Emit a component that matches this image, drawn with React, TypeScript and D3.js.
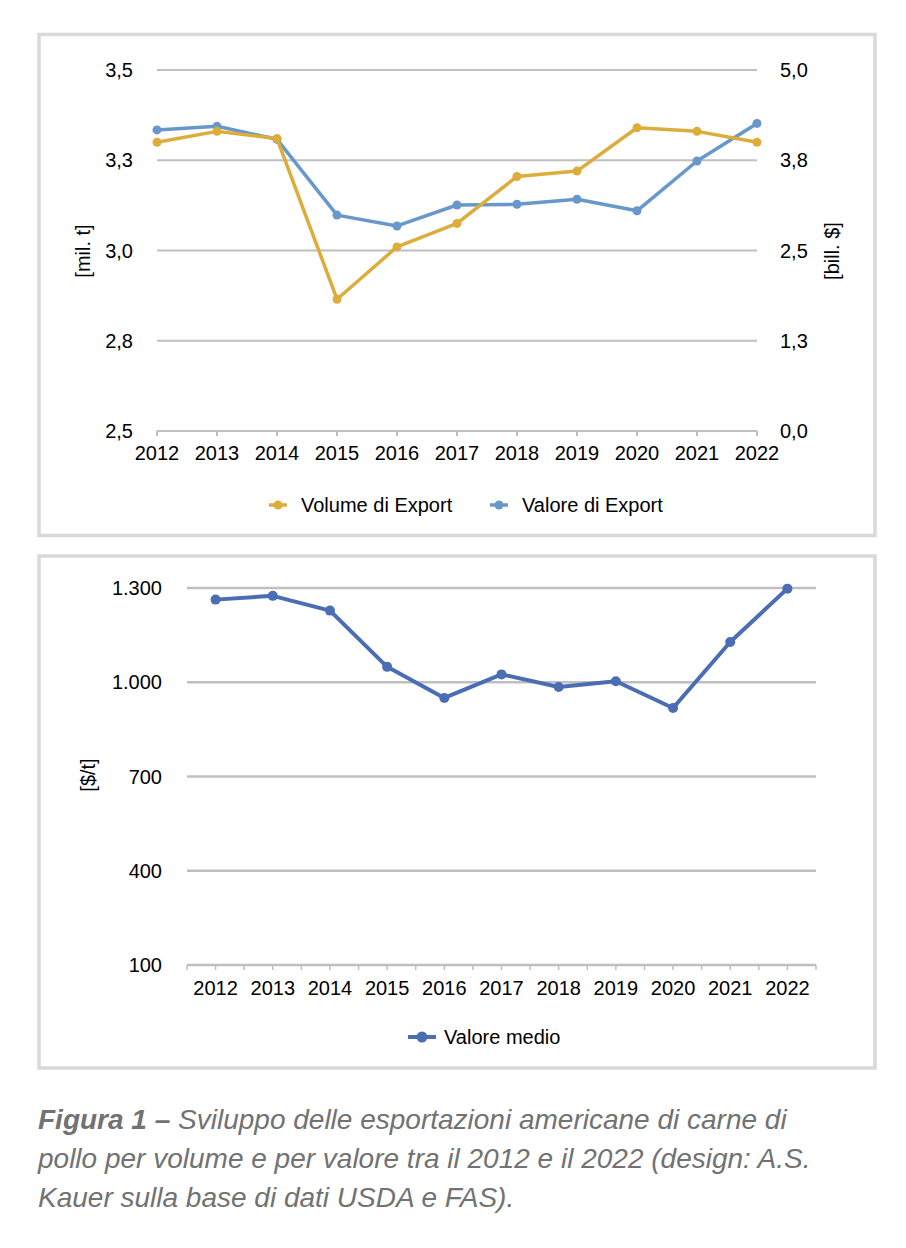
import * as d3 from "d3";

const years = ["2012", "2013", "2014", "2015", "2016", "2017", "2018", "2019", "2020", "2021", "2022"];
// volume di export [mil. t] (asse sinistro)
const volume = [3.30, 3.33, 3.31, 2.865, 3.01, 3.075, 3.205, 3.22, 3.34, 3.33, 3.30];
// valore di export [bill. $] (asse destro)
const valore = [4.17, 4.22, 4.04, 2.99, 2.84, 3.13, 3.14, 3.21, 3.05, 3.74, 4.26];
// valore medio [$/t]
const valoreMedio = [1263, 1275, 1228, 1049, 950, 1025, 985, 1003, 918, 1128, 1298];

const leftTicks = [2.5, 2.75, 3.0, 3.25, 3.5];
const rightTicks = [0, 1.25, 2.5, 3.75, 5.0];
const bottomTicks = [100, 400, 700, 1000, 1300];

const legendTop = ["Volume di Export", "Valore di Export"];
const legendBottom = ["Valore medio"];
const captionBold = "Figura 1 –";
const captionLines = [
  " Sviluppo delle esportazioni americane di carne di",
  "pollo per volume e per valore tra il 2012 e il 2022 (design: A.S.",
  "Kauer sulla base di dati USDA e FAS).",
];

const it = d3.formatLocale({ decimal: ",", thousands: ".", grouping: [3], currency: ["", "€"] });
const fmt1 = it.format(".1f");
const fmtInt = it.format(",d");

const FONT = "'Liberation Sans', Arial, sans-serif";
const GOLD = "#dcad3b";
const LIGHTBLUE = "#6797cb";
const DARKBLUE = "#4a6db4";
const GRID = "#bfbfbf";
const FRAME = "#d9d9d9";

export default function App() {
  // top chart scales
  const x1 = d3.scalePoint<string>().domain(years).range([157, 757]);
  const yL = d3.scaleLinear().domain([2.5, 3.5]).range([431, 70]);
  const yR = d3.scaleLinear().domain([0, 5]).range([431, 70]);

  const lineVol = d3.line<number>().x((_, i) => x1(years[i])!).y(d => yL(d));
  const lineVal = d3.line<number>().x((_, i) => x1(years[i])!).y(d => yR(d));

  // bottom chart scales
  const x2 = d3.scaleBand<string>().domain(years).range([187, 816]);
  const y2 = d3.scaleLinear().domain([100, 1300]).range([965, 588]);
  const lineMed = d3.line<number>().x((_, i) => x2(years[i])! + x2.bandwidth() / 2).y(d => y2(d));

  const halfTicks: number[] = [];
  years.forEach(y => {
    halfTicks.push(x2(y)!);
    halfTicks.push(x2(y)! + x2.bandwidth() / 2);
  });
  halfTicks.push(x2.range()[1]);

  return (
    <div style={{ position: "absolute", left: 0, top: 0 }}>
      <svg width={906} height={1248} style={{ display: "block", fontFamily: FONT }}>
        <rect x={0} y={0} width={906} height={1248} fill="#fff" />

        {/* pannello superiore */}
        <rect x={39} y={34.5} width={836} height={501} fill="#fff" stroke={FRAME} strokeWidth={3.5} />
        {leftTicks.slice(1).map(t => (
          <line key={t} x1={157} x2={757} y1={yL(t)} y2={yL(t)} stroke={GRID} strokeWidth={2} />
        ))}
        <line x1={157} x2={757} y1={431} y2={431} stroke={GRID} strokeWidth={2} />
        {years.map(y => (
          <line key={y} x1={x1(y)} x2={x1(y)} y1={431} y2={436} stroke={GRID} strokeWidth={2} />
        ))}
        {leftTicks.map(t => (
          <text key={t} x={133} y={yL(t)} dy="0.35em" textAnchor="end" fontSize={20} fill="#000">
            {fmt1(t)}
          </text>
        ))}
        {rightTicks.map(t => (
          <text key={t} x={780} y={yR(t)} dy="0.35em" textAnchor="start" fontSize={20} fill="#000">
            {fmt1(t)}
          </text>
        ))}
        {years.map(y => (
          <text key={y} x={x1(y)} y={460} textAnchor="middle" fontSize={20} fill="#000">{y}</text>
        ))}
        <text transform="translate(90,251) rotate(-90)" textAnchor="middle" fontSize={20} fill="#000">[mil. t]</text>
        <text transform="translate(839,251) rotate(-90)" textAnchor="middle" fontSize={20} fill="#000">[bill. $]</text>

        <path d={lineVal(valore)!} fill="none" stroke={LIGHTBLUE} strokeWidth={3.5} strokeLinejoin="round" />
        {valore.map((v, i) => (
          <circle key={i} cx={x1(years[i])} cy={yR(v)} r={4.5} fill={LIGHTBLUE} />
        ))}
        <path d={lineVol(volume)!} fill="none" stroke={GOLD} strokeWidth={3.5} strokeLinejoin="round" />
        {volume.map((v, i) => (
          <circle key={i} cx={x1(years[i])} cy={yL(v)} r={4.5} fill={GOLD} />
        ))}

        {/* legenda superiore */}
        {[GOLD, LIGHTBLUE].map((c, i) => {
          const cx = i === 0 ? 278 : 499;
          return (
            <g key={i}>
              <line x1={cx - 9} x2={cx + 9} y1={505} y2={505} stroke={c} strokeWidth={3.5} />
              <circle cx={cx} cy={505} r={4.5} fill={c} />
              <text x={cx + 23} y={512} fontSize={20} fill="#000">{legendTop[i]}</text>
            </g>
          );
        })}

        {/* pannello inferiore */}
        <rect x={39} y={556} width={836} height={512} fill="#fff" stroke={FRAME} strokeWidth={3.5} />
        {bottomTicks.slice(1).map(t => (
          <line key={t} x1={187} x2={816} y1={y2(t)} y2={y2(t)} stroke={GRID} strokeWidth={2.5} />
        ))}
        <line x1={187} x2={816} y1={965} y2={965} stroke={GRID} strokeWidth={2.5} />
        {halfTicks.map((t, i) => (
          <line key={i} x1={t} x2={t} y1={965} y2={970} stroke={GRID} strokeWidth={1.5} />
        ))}
        {bottomTicks.map(t => (
          <text key={t} x={162} y={y2(t)} dy="0.35em" textAnchor="end" fontSize={20} fill="#000">
            {fmtInt(t)}
          </text>
        ))}
        {years.map(y => (
          <text key={y} x={x2(y)! + x2.bandwidth() / 2} y={995} textAnchor="middle" fontSize={20} fill="#000">{y}</text>
        ))}
        <text transform="translate(95,775) rotate(-90)" textAnchor="middle" fontSize={20} fill="#000">[$/t]</text>

        <path d={lineMed(valoreMedio)!} fill="none" stroke={DARKBLUE} strokeWidth={4} strokeLinejoin="round" />
        {valoreMedio.map((v, i) => (
          <circle key={i} cx={x2(years[i])! + x2.bandwidth() / 2} cy={y2(v)} r={5} fill={DARKBLUE} />
        ))}

        <g>
          <line x1={408} x2={436} y1={1037} y2={1037} stroke={DARKBLUE} strokeWidth={4} />
          <circle cx={422} cy={1037} r={5.5} fill={DARKBLUE} />
          <text x={444} y={1044} fontSize={20} fill="#000">{legendBottom[0]}</text>
        </g>

        {/* didascalia */}
        <text x={38} y={1129} fontSize={28} fontStyle="italic" fill="#727272">
          <tspan fontWeight="bold">{captionBold}</tspan>
          <tspan>{captionLines[0]}</tspan>
        </text>
        <text x={38} y={1168} fontSize={28} fontStyle="italic" fill="#727272">{captionLines[1]}</text>
        <text x={38} y={1207} fontSize={28} fontStyle="italic" fill="#727272">{captionLines[2]}</text>
      </svg>
    </div>
  );
}
